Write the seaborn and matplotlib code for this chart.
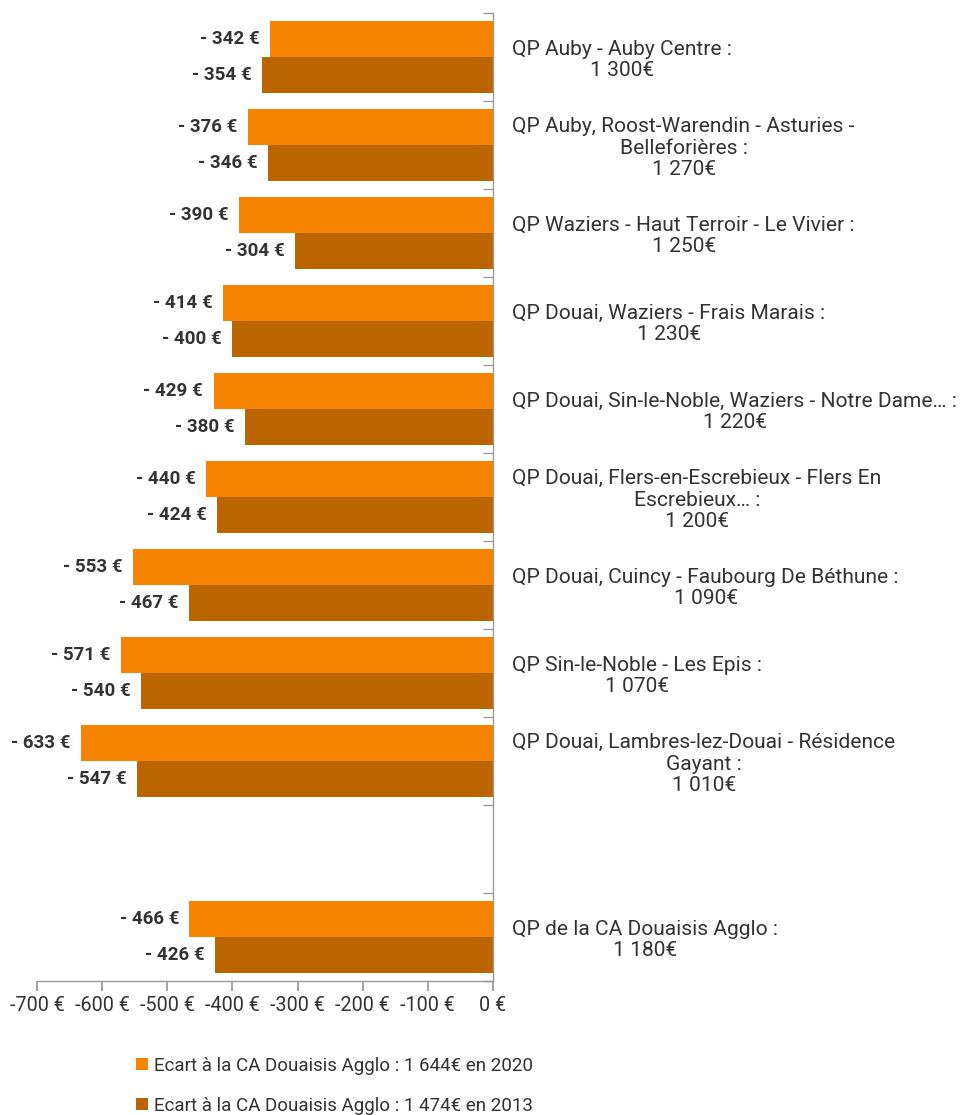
import numpy as np
import pandas as pd
import seaborn as sns
import matplotlib.pyplot as plt

sns.set_theme(style="white")
plt.rcParams['font.family'] = ['Roboto', 'DejaVu Sans']

# Data
categories = [
    "QP Auby - Auby Centre :\n1 300€",
    "QP Auby, Roost-Warendin - Asturies -\nBelleforières :\n1 270€",
    "QP Waziers - Haut Terroir - Le Vivier :\n1 250€",
    "QP Douai, Waziers - Frais Marais :\n1 230€",
    "QP Douai, Sin-le-Noble, Waziers - Notre Dame… :\n1 220€",
    "QP Douai, Flers-en-Escrebieux - Flers En\nEscrebieux… :\n1 200€",
    "QP Douai, Cuincy - Faubourg De Béthune :\n1 090€",
    "QP Sin-le-Noble - Les Epis :\n1 070€",
    "QP Douai, Lambres-lez-Douai - Résidence\nGayant :\n1 010€",
    "QP de la CA Douaisis Agglo :\n1 180€",
]
gap_after = 9  # empty slot between the QP list and the agglo total
ecart_2020 = [-342, -376, -390, -414, -429, -440, -553, -571, -633, -466]
ecart_2013 = [-354, -346, -304, -400, -380, -424, -467, -540, -547, -426]
series = [
    "Ecart à la CA Douaisis Agglo : 1 644€ en 2020",
    "Ecart à la CA Douaisis Agglo : 1 474€ en 2013",
]
colors = ["#F78400", "#BA6500"]
xticks = [-700, -600, -500, -400, -300, -200, -100, 0]

df = pd.DataFrame({
    "cat": categories * 2,
    "value": ecart_2020 + ecart_2013,
    "serie": [series[0]] * len(categories) + [series[1]] * len(categories),
})
order = categories[:gap_after] + [" "] + categories[gap_after:]

fig = plt.figure(figsize=(9.6, 11.15), dpi=100)
ax = fig.add_axes([37 / 960, 1 - 981 / 1115, 456 / 960, 968 / 1115])

sns.barplot(data=df, x="value", y="cat", hue="serie", order=order,
            hue_order=series, palette=colors, width=0.82, orient="h",
            saturation=1, ax=ax, errorbar=None, linewidth=0)

for cont in ax.containers:
    ax.bar_label(cont, fmt=lambda v: f"- {abs(v):.0f} €", padding=7.5,
                 fontsize=13.5, fontweight="bold", color="#333333")

ax.set_xlim(-700, 0)
ax.set_xticks(xticks)
ax.set_xticklabels([f"{t} €" for t in xticks])
ax.set_xlabel("")
ax.set_ylabel("")

# category labels on the right, ticks at slot boundaries
ax.yaxis.tick_right()
ax.set_yticks(range(len(order)))
ax.set_yticklabels(order)
for lab in ax.get_yticklabels():
    lab.set_multialignment("center")
    lab.set_linespacing(1.15)
ax.set_yticks(np.arange(len(order) + 1) - 0.5, minor=True)
ax.tick_params(axis="y", which="major", length=0, pad=14, labelsize=15.1,
               labelcolor="#333333")
ax.tick_params(axis="y", which="minor", right=True, direction="in",
               length=7, color="#999999")
ax.tick_params(axis="x", bottom=True, direction="out", length=7,
               color="#999999", labelsize=14.2, labelcolor="#333333", pad=4)
ax.set_ylim(len(order) - 0.5, -0.5)

for side in ["top", "left"]:
    ax.spines[side].set_visible(False)
for side in ["right", "bottom"]:
    ax.spines[side].set_color("#999999")
    ax.spines[side].set_linewidth(1)

handles, labels = ax.get_legend_handles_labels()
ax.legend(handles, labels, loc="upper left", frameon=False,
          bbox_to_anchor=(136 / 960, 1 - 1057 / 1115),
          bbox_transform=fig.transFigure, borderaxespad=0, borderpad=0,
          handlelength=0.62, handleheight=0.62, handletextpad=0.35,
          labelspacing=1.16, prop={"size": 13.5}, labelcolor="#333333")

fig.savefig("out.png", dpi=100)
